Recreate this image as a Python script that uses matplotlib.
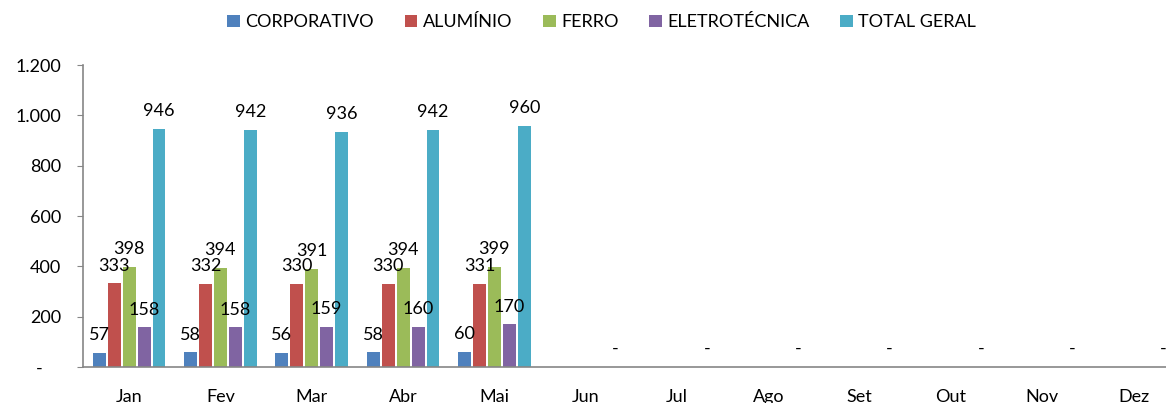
import matplotlib.pyplot as plt
import numpy as np
from matplotlib.ticker import FuncFormatter

# ---- data ----
months = ["Jan", "Fev", "Mar", "Abr", "Mai", "Jun", "Jul", "Ago", "Set", "Out", "Nov", "Dez"]
series_names = ["CORPORATIVO", "ALUMÍNIO", "FERRO", "ELETROTÉCNICA", "TOTAL GERAL"]
corporativo = [57, 58, 56, 58, 60]
aluminio = [333, 332, 330, 330, 331]
ferro = [398, 394, 391, 394, 399]
eletrotecnica = [158, 158, 159, 160, 170]
total_geral = [946, 942, 936, 942, 960, 0, 0, 0, 0, 0, 0, 0]

colors = ["#4F81BD", "#C0504D", "#9BBB59", "#8064A2", "#4BACC6"]

plt.rcParams["font.family"] = ["Lato", "DejaVu Sans"]
plt.rcParams["font.size"] = 13

fig = plt.figure(figsize=(11.66, 4.03), dpi=100)
ax = fig.add_axes([0.0715, 0.0893, 0.94, 0.749])

x = np.arange(len(months))
step = 0.164
width = 0.142
all_series = [corporativo, aluminio, ferro, eletrotecnica, total_geral]

for i, (name, vals) in enumerate(zip(series_names, all_series)):
    xs = x[:len(vals)] + (i - 2) * step
    ax.bar(xs, vals, width, color=colors[i], label=name, zorder=2)
    # data labels, zero shown as "-"
    for xb, v in zip(xs, vals):
        txt = f"{v}" if v else "-"
        ax.annotate(txt, (xb, v), xytext=(0, 7), textcoords="offset points",
                    ha="center", va="bottom", fontsize=13)

ax.set_xlim(-0.5, len(months) - 0.5)
ax.set_ylim(0, 1200)
ax.set_yticks(range(0, 1201, 200))
ax.yaxis.set_major_formatter(FuncFormatter(
    lambda v, p: "-    " if v == 0 else f"{int(v):,}".replace(",", ".")))
ax.set_xticks(x)
ax.set_xticklabels(months)

for s in ["top", "right"]:
    ax.spines[s].set_visible(False)
for s in ["left", "bottom"]:
    ax.spines[s].set_color("#868686")
    ax.spines[s].set_linewidth(1.2)
ax.tick_params(axis="y", length=4, color="#868686", pad=12, labelsize=13)
ax.tick_params(axis="x", length=0, pad=16, labelsize=13)

fig.legend(loc="center", bbox_to_anchor=(0.516, 0.945), ncol=5, frameon=False,
           handlelength=0.7, handleheight=0.7, handletextpad=0.3, columnspacing=1.7,
           fontsize=13)

fig.savefig("out.png", dpi=100)
